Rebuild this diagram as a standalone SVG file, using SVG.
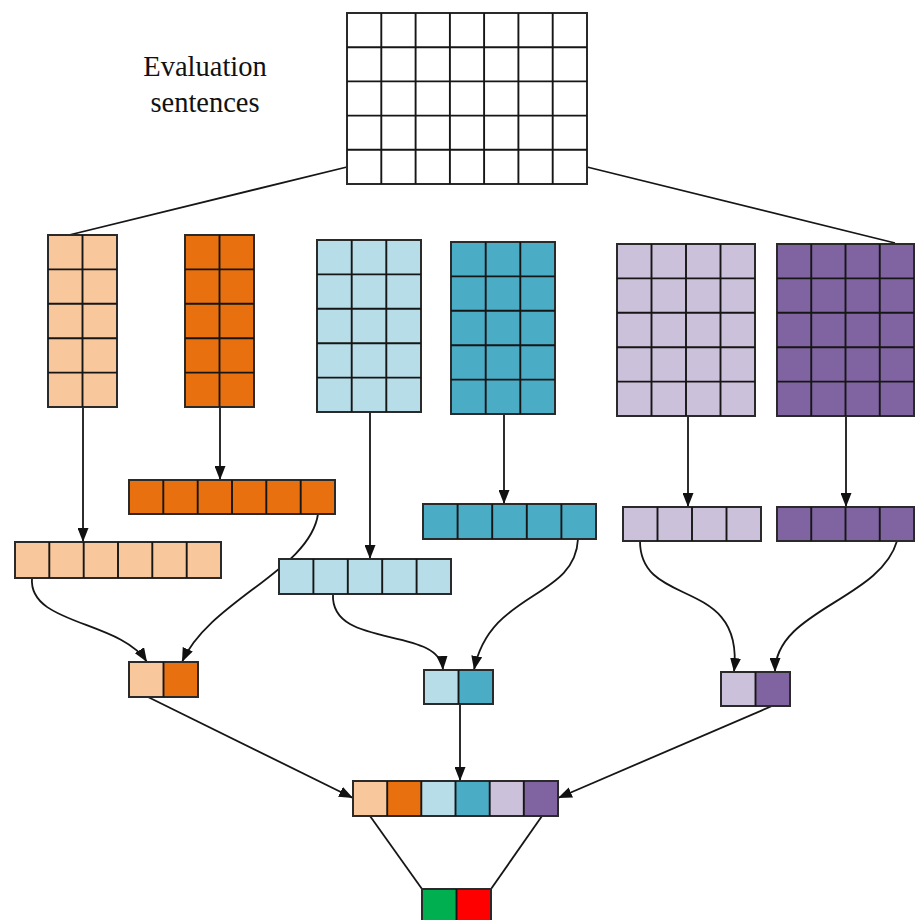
<svg xmlns="http://www.w3.org/2000/svg" width="915" height="920" viewBox="0 0 915 920">
<defs>
<marker id="ah" markerUnits="userSpaceOnUse" markerWidth="14" markerHeight="11" refX="14" refY="5.5" orient="auto">
<path d="M0,0 L14,5.5 L0,11 z" fill="#111"/>
</marker>
<style>
.grid{fill:none;stroke:#161616;stroke-width:1.9}
.box{stroke:#2a2a2a;stroke-width:2}
.c{fill:none;stroke:#161616;stroke-width:1.8}
.a{marker-end:url(#ah)}
.t{font-family:"Liberation Serif","Times New Roman",serif;font-size:28.5px;fill:#111;text-anchor:middle}
.peach{fill:#F9C79C}.orange{fill:#E9700F}.lb{fill:#B7DDE8}.teal{fill:#4BACC6}.lav{fill:#CCC1DA}.pur{fill:#8064A2}.wht{fill:#fff}
</style>
</defs>
<rect width="915" height="920" fill="#fff"/>

<g id="connectors">
<line class="c" x1="347" y1="167" x2="65" y2="236"/>
<line class="c" x1="587" y1="167" x2="895" y2="243"/>
<line class="c a" x1="83" y1="407" x2="83" y2="542"/>
<line class="c a" x1="220" y1="407" x2="220" y2="480"/>
<line class="c a" x1="370" y1="412" x2="370" y2="559"/>
<line class="c a" x1="504" y1="414" x2="504" y2="504"/>
<line class="c a" x1="688" y1="416" x2="688" y2="507"/>
<line class="c a" x1="846" y1="416" x2="846" y2="507"/>
<path class="c a" d="M32,578 C28,625 120,620 147,662"/>
<path class="c a" d="M318,514 C310,570 210,600 182,662"/>
<path class="c a" d="M333,594 C330,650 440,625 443,670"/>
<path class="c a" d="M578,539 C575,600 490,590 474,670"/>
<path class="c a" d="M640,541 C640,610 745,575 734,672"/>
<path class="c a" d="M897,541 C880,600 775,610 775,672"/>
<line class="c a" x1="148" y1="697" x2="353" y2="798"/>
<line class="c a" x1="460" y1="704" x2="460" y2="781"/>
<line class="c a" x1="772" y1="706" x2="558" y2="798"/>
<line class="c" x1="370" y1="816" x2="422" y2="889"/>
<line class="c" x1="542" y1="816" x2="491" y2="889"/>
</g>

<g id="label">
<text class="t" x="205" y="76">Evaluation</text>
<text class="t" x="205" y="112">sentences</text>
</g>

<g id="input-matrix">
<rect class="wht box" x="347" y="13" width="240" height="171"/>
<path class="grid" d="M381.3,13V184M415.6,13V184M449.9,13V184M484.1,13V184M518.4,13V184M552.7,13V184M347,47.2H587M347,81.4H587M347,115.6H587M347,149.8H587"/>
</g>

<g id="matrix-peach">
<rect class="peach box" x="48" y="235" width="69" height="172"/>
<path class="grid" d="M82.5,235V407M48,269.4H117M48,303.8H117M48,338.2H117M48,372.6H117"/>
</g>
<g id="matrix-orange">
<rect class="orange box" x="185" y="235" width="69" height="172"/>
<path class="grid" d="M219.5,235V407M185,269.4H254M185,303.8H254M185,338.2H254M185,372.6H254"/>
</g>
<g id="matrix-lightblue">
<rect class="lb box" x="317" y="240" width="104" height="172"/>
<path class="grid" d="M351.7,240V412M386.3,240V412M317,274.4H421M317,308.8H421M317,343.2H421M317,377.6H421"/>
</g>
<g id="matrix-teal">
<rect class="teal box" x="451" y="242" width="104" height="172"/>
<path class="grid" d="M485.7,242V414M520.3,242V414M451,276.4H555M451,310.8H555M451,345.2H555M451,379.6H555"/>
</g>
<g id="matrix-lavender">
<rect class="lav box" x="617" y="244" width="138" height="172"/>
<path class="grid" d="M651.5,244V416M686,244V416M720.5,244V416M617,278.4H755M617,312.8H755M617,347.2H755M617,381.6H755"/>
</g>
<g id="matrix-purple">
<rect class="pur box" x="777" y="244" width="137" height="172"/>
<path class="grid" d="M811.25,244V416M845.5,244V416M879.75,244V416M777,278.4H914M777,312.8H914M777,347.2H914M777,381.6H914"/>
</g>

<g id="vector-peach">
<rect class="peach box" x="15" y="542" width="206" height="36"/>
<path class="grid" d="M49.3,542V578M83.7,542V578M118,542V578M152.3,542V578M186.7,542V578"/>
</g>
<g id="vector-orange">
<rect class="orange box" x="129" y="480" width="206" height="34"/>
<path class="grid" d="M163.3,480V514M197.7,480V514M232,480V514M266.3,480V514M300.7,480V514"/>
</g>
<g id="vector-lightblue">
<rect class="lb box" x="279" y="559" width="172" height="35"/>
<path class="grid" d="M313.4,559V594M347.8,559V594M382.2,559V594M416.6,559V594"/>
</g>
<g id="vector-teal">
<rect class="teal box" x="423" y="504" width="173" height="35"/>
<path class="grid" d="M457.6,504V539M492.2,504V539M526.8,504V539M561.4,504V539"/>
</g>
<g id="vector-lavender">
<rect class="lav box" x="623" y="507" width="138" height="34"/>
<path class="grid" d="M657.5,507V541M692,507V541M726.5,507V541"/>
</g>
<g id="vector-purple">
<rect class="pur box" x="777" y="507" width="137" height="34"/>
<path class="grid" d="M811.25,507V541M845.5,507V541M879.75,507V541"/>
</g>

<g id="pair-orange">
<rect class="peach" x="129" y="662" width="34.5" height="35"/>
<rect class="orange" x="163.5" y="662" width="34.5" height="35"/>
<rect class="box" fill="none" x="129" y="662" width="69" height="35"/>
<path class="grid" d="M163.5,662V697"/>
</g>
<g id="pair-blue">
<rect class="lb" x="424" y="670" width="34.5" height="34"/>
<rect class="teal" x="458.5" y="670" width="34.5" height="34"/>
<rect class="box" fill="none" x="424" y="670" width="69" height="34"/>
<path class="grid" d="M458.5,670V704"/>
</g>
<g id="pair-purple">
<rect class="lav" x="721" y="672" width="34.5" height="34"/>
<rect class="pur" x="755.5" y="672" width="34.5" height="34"/>
<rect class="box" fill="none" x="721" y="672" width="69" height="34"/>
<path class="grid" d="M755.5,672V706"/>
</g>

<g id="combined-vector">
<rect class="peach" x="353" y="781" width="34.2" height="35"/>
<rect class="orange" x="387.2" y="781" width="34.1" height="35"/>
<rect class="lb" x="421.3" y="781" width="34.2" height="35"/>
<rect class="teal" x="455.5" y="781" width="34.2" height="35"/>
<rect class="lav" x="489.7" y="781" width="34.1" height="35"/>
<rect class="pur" x="523.8" y="781" width="34.2" height="35"/>
<rect class="box" fill="none" x="353" y="781" width="205" height="35"/>
<path class="grid" d="M387.2,781V816M421.3,781V816M455.5,781V816M489.7,781V816M523.8,781V816"/>
</g>

<g id="output">
<rect fill="#00B050" x="422" y="889" width="34.5" height="34"/>
<rect fill="#FF0000" x="456.5" y="889" width="34.5" height="34"/>
<rect class="box" fill="none" x="422" y="889" width="69" height="34"/>
<path class="grid" d="M456.5,889V923"/>
</g>
</svg>
